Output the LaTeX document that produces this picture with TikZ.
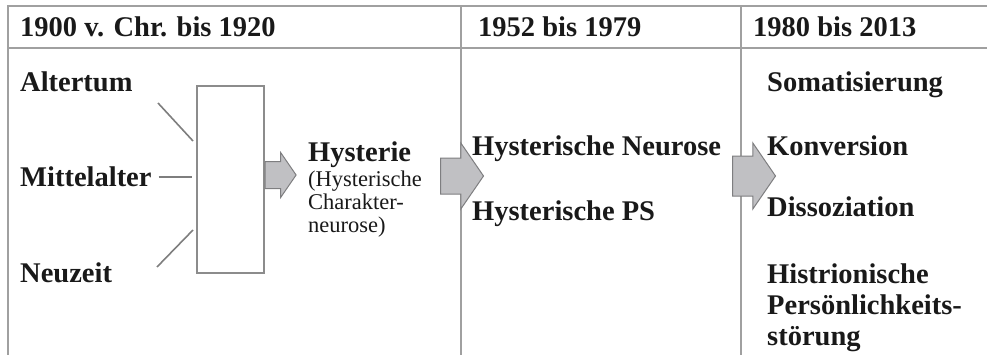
\documentclass[tikz,border=0pt]{standalone}
\usepackage{fontspec}
\setmainfont{Liberation Serif}
\usepackage{tikz}
\usetikzlibrary{positioning}
\usetikzlibrary{shapes.arrows}

\definecolor{linegray}{HTML}{A0A0A0}
\definecolor{boxgray}{HTML}{8C8C8C}
\definecolor{arrowfill}{HTML}{C0C0C3}
\definecolor{arrowline}{HTML}{7E7E80}

\tikzset{
  entry/.style={font=\bfseries\fontsize{28.5}{31}\selectfont, inner sep=0pt, anchor=base west, align=left, text=black!90},
  note/.style={font=\fontsize{22.5}{23}\selectfont, inner sep=0pt, anchor=base west, align=left, text=black!90},
  spoke/.style={draw=boxgray!90!black, line width=1.6pt},
  block/.style={single arrow, draw=arrowline, fill=arrowfill, line width=1pt, inner sep=0pt, anchor=west, single arrow tip angle=111, minimum width=0pt, text depth=0pt},
}

\begin{document}
\begin{tikzpicture}[x=1pt,y=-1pt]
		\useasboundingbox (0,0) rectangle (987,355);
		% table
		\draw[linegray, line width=1.6pt] (8,355) -- (8,6) -- (987,6);
		\draw[linegray, line width=1.6pt] (8,48) -- (987,48);
		\draw[linegray, line width=1.6pt] (461,6) -- (461,355);
		\draw[linegray, line width=1.6pt] (741,6) -- (741,355);
		
		\node[entry] (h1) at (20,37) {1900 v. Chr. bis 1920};
		\node[entry] (h2) at (478,37) {1952 bis 1979};
		\node[entry] (h3) at (753,37) {1980 bis 2013};
		
		% Altertum bis Neuzeit
		\node[entry] (alt) at (20,92) {Altertum};
		\node[entry] (mitte) at (20,187) {Mittelalter};
		\node[entry] (neu) at (20,282) {Neuzeit};
		\node[draw=boxgray, line width=1.2pt, minimum width=67pt, minimum height=187pt, inner sep=0pt] (box) at (230.5,179.5) {};
		
		\coordinate (altA) at (158,103);
		\coordinate (altB) at (193,141);
		\coordinate (neuA) at (157,267);
		\coordinate (neuB) at (193,230);
		\draw[spoke] (altA) -- (altB);
		\draw[spoke, shorten <=7pt, shorten >=4pt] (mitte.east) -- (mitte.east -| box.west);
		\draw[spoke] (neuA) -- (neuB);
		
		\node[block, text height=26pt, minimum height=31pt, single arrow head extend=9pt] (pfA) at (box.east |- 0,175) {};
		
		\node[entry] (hyst) at (308,162) {Hysterie};
		% base = letzte Zeile
		\node[note] (hystk) at (308,233) {(Hysterische\\Charakter-\\neurose)};
		
		% 1952 bis 1979
		\node[block, text height=35pt, minimum height=43pt, single arrow head extend=15pt] (pfB) at (440,176) {};
		\node[entry] (neur) at (472,156) {Hysterische Neurose};
		\node[entry] (ps) at (472,221) {Hysterische PS};
		
		% 1980 bis 2013
		\node[block, text height=39pt, minimum height=43pt, single arrow head extend=13pt] (pfC) at (732,176) {};
		\node[entry] (soma) at (767,92) {Somatisierung};
		\node[entry] (konv) at (767,156) {Konversion};
		\node[entry] (diss) at (767,217) {Dissoziation};
		\node[entry] (hist) at (767,345) {Histrionische\\Persönlichkeits-\\störung};
\end{tikzpicture}
\end{document}
